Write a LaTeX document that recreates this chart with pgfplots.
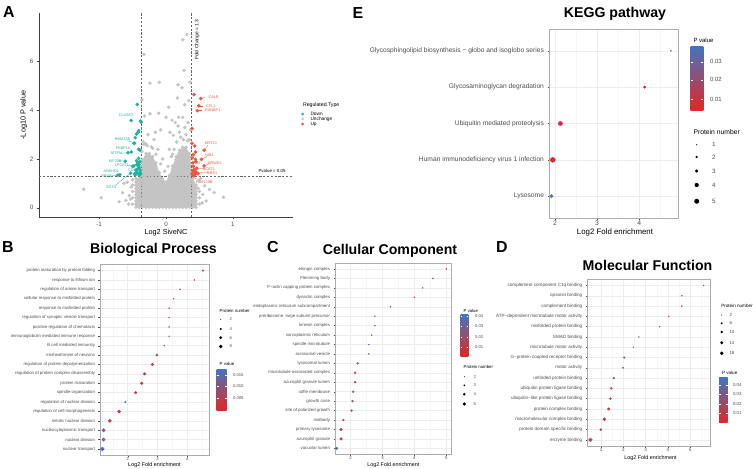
\documentclass[border=0pt]{standalone}
\usepackage{fontspec}
\setmainfont{Liberation Sans}
\usepackage{pgfplots}
\pgfplotsset{compat=1.18}
\newcommand\fs[1]{\fontsize{#1}{#1}\selectfont}
\definecolor{dn}{RGB}{32,178,160}
\definecolor{upc}{RGB}{238,86,58}
\definecolor{ns}{RGB}{196,196,196}
\definecolor{cR}{RGB}{228,38,36}
\definecolor{cM}{RGB}{165,80,125}
\definecolor{cB}{RGB}{64,118,192}
\definecolor{tk}{RGB}{77,77,77}
\pgfplotsset{
  colormap={rb}{rgb255=(228,38,36) rgb255=(165,80,125) rgb255=(64,118,192)},
  dot/.style={scale only axis, anchor=south west, colormap name=rb, clip=false,
    /pgf/number format/assume math mode=true,
    xmajorgrids, ymajorgrids, xminorgrids,
    major grid style={gray!14, line width=0.4bp},
    minor grid style={gray!6, line width=0.3bp},
    axis line style={gray!65, line width=0.5bp},
    tick style={tk, line width=0.35bp}, major tick length=1.5bp, minor tick length=0bp,
    tick align=outside, xtick pos=bottom, ytick pos=left,
    xticklabel style={inner sep=1bp},
    tick label style={text=tk}, ymin=0.4},
  bub/.style={scatter, only marks, mark=*, point meta=\thisrow{p},
    scatter/use mapped color={draw=mapped color, fill=mapped color},
    scatter/@pre marker code/.append style={/tikz/mark size=\rad, /tikz/line width=0.1bp}},
}
\begin{document}
\begin{tikzpicture}
\useasboundingbox (0bp,0bp) rectangle (753bp,-469bp);

% ---- A: volcano
\begin{axis}[scale only axis, anchor=south west, at={(39bp,-217bp)}, width=254bp, height=204bp,
  xmin=-1.9, xmax=1.9, ymin=-0.38, ymax=8, clip=false,
  axis x line*=bottom, axis y line*=left,
  axis line style={black!75, line width=0.5bp},
  xtick={-1,0,1}, ytick={0,2,4,6},
  tick align=outside, major tick length=2bp, tick style={black!75, line width=0.4bp},
  /pgf/number format/assume math mode=true,
  tick label style={font=\fs{6.3}, text=tk},
  xlabel={Log2 SiveNC}, ylabel={-Log10 P value},
  label style={font=\fs{7.3}},
  xlabel style={yshift=5bp}, ylabel style={yshift=-4bp}]
% dense core of the cloud
\addplot[fill=ns, draw=none] coordinates {
(-0.45,0.02)(-0.45,1.19)(-0.40,1.19)(-0.35,1.97)(-0.30,2.23)(-0.25,2.23)(-0.20,2.10)(-0.15,1.84)
(-0.10,1.45)(-0.05,1.19)(0.00,1.06)(0.05,1.32)(0.10,1.71)(0.15,2.10)(0.20,2.36)(0.25,2.49)
(0.30,2.49)(0.35,2.23)(0.40,1.19)(0.45,0.93)(0.45,0.02)} -- cycle;
\addplot[only marks, mark=*, mark size=1.55bp, ns, mark options={draw=none, fill=ns}] coordinates {
(-0.50,0.15)(-0.50,0.41)(-0.50,0.67)(-0.50,0.93)
(-0.45,0.02)(-0.45,0.15)(-0.45,0.28)(-0.45,0.41)(-0.45,0.54)(-0.45,0.67)(-0.45,0.80)(-0.45,0.93)(-0.45,1.06)(-0.45,1.19)
(-0.40,0.02)(-0.40,0.15)(-0.40,0.28)(-0.40,0.41)(-0.40,0.54)(-0.40,0.67)(-0.40,0.80)(-0.40,0.93)(-0.40,1.06)(-0.40,1.19)
(-0.35,0.02)(-0.35,0.15)(-0.35,0.28)(-0.35,0.41)(-0.35,0.54)(-0.35,0.67)(-0.35,0.80)(-0.35,0.93)(-0.35,1.06)(-0.35,1.19)(-0.35,1.32)(-0.35,1.45)(-0.35,1.58)(-0.35,1.71)(-0.35,1.84)(-0.35,1.97)
(-0.30,0.02)(-0.30,0.15)(-0.30,0.28)(-0.30,0.41)(-0.30,0.54)(-0.30,0.67)(-0.30,0.80)(-0.30,0.93)(-0.30,1.06)(-0.30,1.19)(-0.30,1.32)(-0.30,1.45)(-0.30,1.58)(-0.30,1.71)(-0.30,1.84)(-0.30,1.97)(-0.30,2.10)(-0.30,2.23)
(-0.25,0.02)(-0.25,0.15)(-0.25,0.28)(-0.25,0.41)(-0.25,0.54)(-0.25,0.67)(-0.25,0.80)(-0.25,0.93)(-0.25,1.06)(-0.25,1.19)(-0.25,1.32)(-0.25,1.45)(-0.25,1.58)(-0.25,1.71)(-0.25,1.84)(-0.25,1.97)(-0.25,2.10)(-0.25,2.23)
(-0.20,0.02)(-0.20,0.15)(-0.20,0.28)(-0.20,0.41)(-0.20,0.54)(-0.20,0.67)(-0.20,0.80)(-0.20,0.93)(-0.20,1.06)(-0.20,1.19)(-0.20,1.32)(-0.20,1.45)(-0.20,1.58)(-0.20,1.71)(-0.20,1.84)(-0.20,1.97)(-0.20,2.10)
(-0.15,0.02)(-0.15,0.15)(-0.15,0.28)(-0.15,0.41)(-0.15,0.54)(-0.15,0.67)(-0.15,0.80)(-0.15,0.93)(-0.15,1.06)(-0.15,1.19)(-0.15,1.32)(-0.15,1.45)(-0.15,1.58)(-0.15,1.71)(-0.15,1.84)
(-0.10,0.02)(-0.10,0.15)(-0.10,0.28)(-0.10,0.41)(-0.10,0.54)(-0.10,0.67)(-0.10,0.80)(-0.10,0.93)(-0.10,1.06)(-0.10,1.19)(-0.10,1.32)(-0.10,1.45)
(-0.05,0.02)(-0.05,0.15)(-0.05,0.28)(-0.05,0.41)(-0.05,0.54)(-0.05,0.67)(-0.05,0.80)(-0.05,0.93)(-0.05,1.06)(-0.05,1.19)
(0.00,0.02)(0.00,0.15)(0.00,0.28)(0.00,0.41)(0.00,0.54)(0.00,0.67)(0.00,0.80)(0.00,0.93)(0.00,1.06)
(0.05,0.02)(0.05,0.15)(0.05,0.28)(0.05,0.41)(0.05,0.54)(0.05,0.67)(0.05,0.80)(0.05,0.93)(0.05,1.06)(0.05,1.19)(0.05,1.32)
(0.10,0.02)(0.10,0.15)(0.10,0.28)(0.10,0.41)(0.10,0.54)(0.10,0.67)(0.10,0.80)(0.10,0.93)(0.10,1.06)(0.10,1.19)(0.10,1.32)(0.10,1.45)(0.10,1.58)(0.10,1.71)
(0.15,0.02)(0.15,0.15)(0.15,0.28)(0.15,0.41)(0.15,0.54)(0.15,0.67)(0.15,0.80)(0.15,0.93)(0.15,1.06)(0.15,1.19)(0.15,1.32)(0.15,1.45)(0.15,1.58)(0.15,1.71)(0.15,1.84)(0.15,1.97)(0.15,2.10)
(0.20,0.02)(0.20,0.15)(0.20,0.28)(0.20,0.41)(0.20,0.54)(0.20,0.67)(0.20,0.80)(0.20,0.93)(0.20,1.06)(0.20,1.19)(0.20,1.32)(0.20,1.45)(0.20,1.58)(0.20,1.71)(0.20,1.84)(0.20,1.97)(0.20,2.10)(0.20,2.23)(0.20,2.36)
(0.25,0.02)(0.25,0.15)(0.25,0.28)(0.25,0.41)(0.25,0.54)(0.25,0.67)(0.25,0.80)(0.25,0.93)(0.25,1.06)(0.25,1.19)(0.25,1.32)(0.25,1.45)(0.25,1.58)(0.25,1.71)(0.25,1.84)(0.25,1.97)(0.25,2.10)(0.25,2.23)(0.25,2.36)(0.25,2.49)
(0.30,0.02)(0.30,0.15)(0.30,0.28)(0.30,0.41)(0.30,0.54)(0.30,0.67)(0.30,0.80)(0.30,0.93)(0.30,1.06)(0.30,1.19)(0.30,1.32)(0.30,1.45)(0.30,1.58)(0.30,1.71)(0.30,1.84)(0.30,1.97)(0.30,2.10)(0.30,2.23)(0.30,2.36)(0.30,2.49)
(0.35,0.02)(0.35,0.15)(0.35,0.28)(0.35,0.41)(0.35,0.54)(0.35,0.67)(0.35,0.80)(0.35,0.93)(0.35,1.06)(0.35,1.19)(0.35,1.32)(0.35,1.45)(0.35,1.58)(0.35,1.71)(0.35,1.84)(0.35,1.97)(0.35,2.10)(0.35,2.23)
(0.40,0.02)(0.40,0.15)(0.40,0.28)(0.40,0.41)(0.40,0.54)(0.40,0.67)(0.40,0.80)(0.40,0.93)(0.40,1.06)(0.40,1.19)
(0.45,0.02)(0.45,0.15)(0.45,0.28)(0.45,0.41)(0.45,0.54)(0.45,0.67)(0.45,0.80)(0.45,0.93)
(0.50,0.15)(0.50,0.41)(0.50,0.67)
(0.31,7.12)(0.25,6.90)(-0.33,6.30)(0.27,5.64)(-0.24,5.12)(0.18,5.05)(0.24,4.93)(0.36,5.16)(-0.10,5.15)
(0.17,4.51)(0.34,4.40)(0.28,4.23)(-0.36,4.43)(-0.24,3.86)(-0.11,3.88)(-0.32,3.77)(0.19,3.72)(0.25,3.71)
(0.00,3.72)(0.04,4.13)(0.18,3.36)(0.11,2.98)(0.06,3.10)(-0.28,2.55)(-0.33,2.60)(-0.36,2.30)(-0.30,2.62)
(-0.22,2.50)(-0.15,2.20)(-0.08,1.80)(-0.02,1.50)(0.03,1.70)(0.08,2.10)(0.12,2.40)(0.16,2.70)(0.22,2.90)
(0.30,3.00)(0.35,2.80)(0.28,3.30)(0.20,3.10)(0.14,3.50)(-0.18,2.80)(-0.27,3.00)(-0.34,2.70)(-0.12,2.40)
(-0.05,2.00)(0.05,2.40)(0.33,3.50)(0.37,3.20)(0.32,2.75)(0.26,2.80)(0.10,2.20)(-0.20,2.45)(-0.08,3.20)
(0.09,3.60)(-0.16,3.10)
(-1.23,0.76)(-0.97,0.41)(-0.63,1.00)(-0.55,0.50)(-0.60,0.30)(-0.52,0.85)(-0.56,0.15)(-0.65,0.62)(-0.50,1.15)
(-0.58,1.05)(-0.70,0.25)(-0.53,0.35)(0.86,0.43)(0.72,0.62)(0.55,0.55)(0.58,0.90)(0.60,0.28)(0.50,1.10)
(0.54,0.20)(0.65,0.75)(0.48,0.80)(0.52,1.20)
};
\addplot[only marks, mark=*, mark size=1.6bp, dn, mark options={draw=none, fill=dn}] coordinates {
(-0.43,4.24)(-0.52,3.58)(-0.38,3.57)(-0.37,3.51)(-0.42,3.10)(-0.44,3.03)(-0.41,3.17)(-0.46,2.88)
(-0.47,2.65)(-0.48,2.65)(-0.39,2.37)(-0.41,2.40)(-0.52,2.29)(-0.57,2.26)(-0.61,1.91)(-0.41,2.03)
(-0.44,1.93)(-0.48,1.72)(-0.44,1.77)(-0.42,1.85)(-0.40,1.78)(-0.40,1.64)(-0.43,1.58)(-0.45,1.55)
(-0.39,1.55)(-0.39,1.45)(-0.42,1.42)(-0.44,1.46)(-0.69,1.36)(-0.72,1.34)(-0.53,1.42)(-0.47,1.39)
(-0.38,1.39)(-0.40,1.33)(-0.50,1.70)(-0.46,1.35)(-0.41,1.70)(-0.39,1.90)
};
\addplot[only marks, mark=*, mark size=1.6bp, upc, mark options={draw=none, fill=upc}] coordinates {
(0.42,4.65)(0.52,4.49)(0.49,4.19)(0.47,3.99)(0.39,3.25)(0.39,2.65)(0.57,2.37)(0.43,2.54)
(0.44,2.29)(0.41,2.18)(0.53,1.99)(0.44,1.99)(0.45,1.89)(0.40,1.85)(0.57,1.72)(0.41,1.70)
(0.46,1.62)(0.42,1.57)(0.40,1.52)(0.43,1.49)(0.41,1.44)(0.39,1.39)(0.44,1.39)(0.40,1.35)
(0.42,1.32)(0.45,1.47)(0.48,1.40)(0.39,2.05)
};
\addplot[dash pattern=on 2.2bp off 1.6bp, black!60, line width=0.4bp] coordinates {(-0.378,-0.38) (-0.378,8)};
\addplot[dash pattern=on 2.2bp off 1.6bp, black!60, line width=0.4bp] coordinates {(0.378,-0.38) (0.378,8)};
\addplot[dash pattern=on 2.2bp off 1.6bp, black!60, line width=0.4bp] coordinates {(-1.9,1.301) (1.9,1.301)};
\node[rotate=90, font=\fs{4.85}] at (axis cs:0.467,6.9) {Fold Change = 1.3};
\node[anchor=east, font=\fs{4.4}] at (axis cs:1.84,1.5) {Pvalue = 0.05};
% gene labels
\begin{scope}[dn, line width=0.3bp, font=\fs{3.8}]
\node at (axis cs:-0.597,3.79) {CLASP2};
\node at (axis cs:-0.65,2.81) {RBM12B};
\draw (axis cs:-0.58,2.76) -- (axis cs:-0.47,2.66);
\node at (axis cs:-0.64,2.43) {FKBP1A};
\node at (axis cs:-0.74,2.24) {MTPN};
\draw (axis cs:-0.685,2.24) -- (axis cs:-0.57,2.26);
\node at (axis cs:-0.76,1.93) {KIF20B};
\draw (axis cs:-0.695,1.93) -- (axis cs:-0.61,1.91);
\node at (axis cs:-0.66,1.74) {LPCAT1};
\draw (axis cs:-0.585,1.74) -- (axis cs:-0.48,1.72);
\node at (axis cs:-0.51,1.53) {CD9};
\node at (axis cs:-0.82,1.51) {ANKHD1};
\node at (axis cs:-0.89,1.30) {RBM4};
\draw (axis cs:-0.835,1.30) -- (axis cs:-0.72,1.34);
\node at (axis cs:-0.82,0.84) {SGTA};
\draw (axis cs:-0.76,0.92) -- (axis cs:-0.53,1.42);
\end{scope}
\begin{scope}[upc, line width=0.3bp, font=\fs{3.8}]
\node[anchor=west] at (axis cs:0.585,4.53) {CALR};
\draw (axis cs:0.585,4.53) -- (axis cs:0.52,4.49);
\node[anchor=west] at (axis cs:0.55,4.19) {CFL1};
\draw (axis cs:0.55,4.19) -- (axis cs:0.49,4.19);
\node[anchor=west] at (axis cs:0.535,3.99) {RANBP1};
\draw (axis cs:0.535,3.99) -- (axis cs:0.47,3.99);
\node at (axis cs:0.67,2.65) {KRT13};
\draw (axis cs:0.63,2.57) -- (axis cs:0.57,2.37);
\node at (axis cs:0.65,2.17) {NIB1};
\draw (axis cs:0.61,2.10) -- (axis cs:0.53,1.99);
\node at (axis cs:0.73,1.85) {GRWD1};
\draw (axis cs:0.66,1.82) -- (axis cs:0.57,1.72);
\node at (axis cs:0.45,1.83) {VTN};
\node at (axis cs:0.64,1.59) {ACAT2};
\draw (axis cs:0.585,1.60) -- (axis cs:0.46,1.62);
\node at (axis cs:0.69,1.42) {RRS1};
\draw (axis cs:0.64,1.43) -- (axis cs:0.45,1.47);
\node at (axis cs:0.57,1.05) {FAM129B};
\draw (axis cs:0.52,1.12) -- (axis cs:0.41,1.24);
\end{scope}
\end{axis}

% ---- E: KEGG
\begin{axis}[dot, at={(549bp,-218bp)}, width=129bp, height=189bp,
  xmin=1.86, xmax=4.92, ymax=5.6, xtick={2,3,4}, minor xtick={2.5,3.5,4.5},
  ytick={1,...,5},
  yticklabels={Lysosome, Human immunodeficiency virus 1 infection, Ubiquitin mediated proteolysis, Glycosaminoglycan degradation, Glycosphingolipid biosynthesis − globo and isoglobo series},
  yticklabel style={font=\fs{6.7}}, xticklabel style={font=\fs{6.8}},
  point meta min=0.0041, point meta max=0.0384]
\addplot[bub, visualization depends on={0.6+(sqrt(\thisrow{n})-1)*1.537 \as \rad}] table {
x y p n
4.75 5 0.037 1
4.13 4 0.004 2
2.13 3 0.007 4
1.95 2 0.005 5
1.92 1 0.036 3
};
\end{axis}

% ---- B: Biological Process
\begin{axis}[dot, at={(100bp,-455bp)}, width=109bp, height=191bp,
  xmin=1.07, xmax=4.73, ymin=0.36, ymax=20.7, xtick={2,3,4}, minor xtick={1.5,2.5,3.5,4.5},
  ytick={1,...,20},
  yticklabels={nuclear transport, nuclear division, nucleocytoplasmic transport, mitotic nuclear division, regulation of cell morphogenesis, regulation of nuclear division, spindle organization, protein maturation, regulation of protein complex disassembly, regulation of protein depolymerization, ensheathment of neurons, B cell mediated immunity, immunoglobulin mediated immune response, positive regulation of chemotaxis, regulation of synaptic vesicle transport, response to misfolded protein, cellular response to misfolded protein, regulation of amine transport, response to lithium ion, protein maturation by protein folding},
  yticklabel style={font=\fs{4.3}}, xticklabel style={font=\fs{4.3}},
  point meta min=0, point meta max=0.0178]
\addplot[bub, visualization depends on={0.5+(sqrt(\thisrow{n})-1.414)*0.99 \as \rad}] table {
x y p n
4.53 20 0.001 3
4.24 19 0.002 2
3.76 18 0.004 2
3.54 17 0.005 2
3.39 16 0.008 2
3.39 15 0.009 2
3.39 14 0.009 2
3.39 13 0.010 2
3.23 12 0.017 2
2.98 11 0.002 4
2.83 10 0.002 5
2.57 9 0.003 5
2.47 8 0.003 5
2.27 7 0.002 5
1.92 6 0.017 3
1.71 5 0.002 6
1.40 4 0.006 7
1.19 3 0.012 7
1.19 2 0.012 7
1.15 1 0.016 8
};
\end{axis}

% ---- C: Cellular Component
\begin{axis}[dot, at={(335bp,-454bp)}, width=116.7bp, height=190.7bp,
  xmin=1.51, xmax=5.17, ymax=20.6, xtick={2,3,4,5}, minor xtick={2.5,3.5,4.5},
  ytick={1,...,20},
  yticklabels={vacuolar lumen, azurophil granule, primary lysosome, midbody, site of polarized growth, growth cone, ruffle membrane, azurophil granule lumen, microtubule associated complex, lysosomal lumen, acrosomal vesicle, spindle microtubule, sarcoplasmic reticulum, kinesin complex, {preribosome, large subunit precursor}, endoplasmic reticulum subcompartment, dynactin complex, F−actin capping protein complex, Flemming body, elongin complex},
  yticklabel style={font=\fs{4.35}}, xticklabel style={font=\fs{4.3}},
  point meta min=0.001, point meta max=0.0417]
\addplot[bub, visualization depends on={0.5+(sqrt(\thisrow{n})-1.414)*1.46 \as \rad}] table {
x y p n
5.00 20 0.005 2
4.58 19 0.010 2
4.26 18 0.010 2
4.00 17 0.004 2
3.25 16 0.012 2
2.76 15 0.036 2
2.76 14 0.030 2
2.66 13 0.033 2
2.57 12 0.040 2
2.57 11 0.040 2
2.22 10 0.020 3
2.14 9 0.012 3
2.14 8 0.012 3
2.08 7 0.025 3
2.06 6 0.013 3
2.03 5 0.010 3
1.77 4 0.020 3
1.70 3 0.009 4
1.70 2 0.009 4
1.56 1 0.040 4
};
\end{axis}

% ---- D: Molecular Function
\begin{axis}[dot, at={(587.3bp,-446bp)}, width=123.4bp, height=166.7bp,
  xmin=0.38, xmax=5.93, ymax=16.6, xtick={1,2,3,4,5}, minor xtick={1.5,2.5,3.5,4.5,5.5},
  ytick={1,...,16},
  yticklabels={enzyme binding, protein domain specific binding, macromolecular complex binding, protein complex binding, ubiquitin−like protein ligase binding, ubiquitin protein ligase binding, unfolded protein binding, motor activity, G−protein coupled receptor binding, microtubule motor activity, SMAD binding, misfolded protein binding, ATP−dependent microtubule motor activity, complement binding, opsonin binding, complement component C1q binding},
  yticklabel style={font=\fs{4.6}}, xticklabel style={font=\fs{4.6}},
  point meta min=0, point meta max=0.048]
\addplot[bub, visualization depends on={0.5+(sqrt(\thisrow{n})-1.414)*0.495 \as \rad}] table {
x y p n
5.61 16 0.010 2
4.63 15 0.008 2
4.63 14 0.012 2
4.04 13 0.012 2
3.63 12 0.004 2
2.70 11 0.035 2
2.45 10 0.045 2
2.04 9 0.020 4
1.99 8 0.030 3
1.57 7 0.030 5
1.46 6 0.012 6
1.42 5 0.015 6
1.34 4 0.008 9
1.15 3 0.004 12
0.99 2 0.025 7
0.52 1 0.020 18
};
\end{axis}

% ---- titles, labels, legends
\begin{scope}[x=1bp, y=-1bp]
\node[font=\bfseries\fs{16}] at (9,12.5) {A};
\node[font=\bfseries\fs{16}] at (358,13) {E};
\node[font=\bfseries\fs{16}] at (8,246.7) {B};
\node[font=\bfseries\fs{16}] at (273,246.7) {C};
\node[font=\bfseries\fs{16}] at (502,247) {D};
\node[font=\bfseries\fs{14.2}] at (615,13.5) {KEGG pathway};
\node[font=\bfseries\fs{14.2}] at (153.5,249.5) {Biological Process};
\node[font=\bfseries\fs{14.2}] at (390,250.5) {Cellular Component};
\node[font=\bfseries\fs{14.2}] at (647.5,265.5) {Molecular Function};
\node[font=\fs{7.9}] at (615,232.5) {Log2 Fold enrichment};
\node[font=\fs{5.45}] at (154.5,464.8) {Log2 Fold enrichment};
\node[font=\fs{5.4}] at (393.3,464.8) {Log2 Fold enrichment};
\node[font=\fs{5.4}] at (650.5,458.2) {Log2 Fold enrichment};
% A legend
\node[anchor=west, font=\fs{5.2}] at (299.5,105.3) {Regulated.Type};
\fill[dn] (302.7,114) circle (1.5);
\fill[ns] (302.7,119) circle (1.5);
\fill[upc] (302.7,124) circle (1.5);
\node[anchor=west, font=\fs{4.8}] at (307,114) {Down};
\node[anchor=west, font=\fs{4.8}] at (307,119) {Unchange};
\node[anchor=west, font=\fs{4.8}] at (307,124) {Up};
% E legends
\node[anchor=west, font=\fs{6}] at (690,40) {P value};
\shade[top color=cB, middle color=cM, bottom color=cR] (690.7,46) rectangle (703.3,110);
\foreach \yy/\tt in {61.7/0.03, 79.7/0.02, 99/0.01} {
  \draw[white, line width=0.4] (690.7,\yy) -- (693.2,\yy) (700.8,\yy) -- (703.3,\yy);
  \node[anchor=west, font=\fs{6}, text=tk] at (706.5,\yy) {\tt};}
\node[anchor=west, font=\fs{6.8}] at (690,131.7) {Protein number};
\foreach \yy/\rr/\tt in {144.7/0.6/1, 157/1.24/2, 171/1.73/3, 185/2.14/4, 201.3/2.5/5} {
  \fill (696.7,\yy) circle (\rr);
  \node[anchor=west, font=\fs{6.3}, text=tk] at (708.5,\yy) {\tt};}
% B legends
\node[anchor=west, font=\fs{4.4}] at (216.2,310.7) {Protein number};
\foreach \yy/\rr/\tt in {319.3/0.5/2, 329/1.08/4, 337.7/1.52/6, 346.5/1.9/8} {
  \fill (220.7,\yy) circle (\rr);
  \node[anchor=west, font=\fs{4.2}, text=tk] at (226,\yy) {\tt};}
\node[anchor=west, font=\fs{4.4}] at (216.2,364.3) {P value};
\shade[top color=cB, middle color=cM, bottom color=cR] (216.7,369) rectangle (226.7,410);
\foreach \yy/\tt in {375.3/0.015, 386.5/0.010, 397.7/0.005} {
  \draw[white, line width=0.3] (216.7,\yy) -- (218.7,\yy) (224.7,\yy) -- (226.7,\yy);
  \node[anchor=west, font=\fs{4.2}, text=tk] at (229.5,\yy) {\tt};}
% C legends
\node[anchor=west, font=\fs{4.3}] at (460.2,310.7) {P value};
\shade[top color=cB, middle color=cM, bottom color=cR] (460.7,314.3) rectangle (468.3,356);
\foreach \yy/\tt in {316/0.04, 325.7/0.03, 336.7/0.02, 346.7/0.01} {
  \draw[white, line width=0.3] (460.7,\yy) -- (462.4,\yy) (466.6,\yy) -- (468.3,\yy);
  \node[anchor=west, font=\fs{4.2}, text=tk] at (471.5,\yy) {\tt};}
\node[anchor=west, font=\fs{4.3}] at (460.2,367.3) {Protein number};
\foreach \yy/\rr/\tt in {376.7/0.5/2, 385.3/0.96/3, 394.3/1.36/4, 404/1.7/5} {
  \fill (464.3,\yy) circle (\rr);
  \node[anchor=west, font=\fs{4.2}, text=tk] at (470,\yy) {\tt};}
% D legends
\node[anchor=west, font=\fs{4.6}] at (717.8,306) {Protein number};
\foreach \yy/\rr/\tt in {315/0.5/2, 323.3/1.01/6, 332/1.37/10, 342.7/1.65/14, 353.3/1.9/18} {
  \fill (721.7,\yy) circle (\rr);
  \node[anchor=west, font=\fs{4.4}, text=tk] at (726,\yy) {\tt};}
\node[anchor=west, font=\fs{4.6}] at (718.5,372.7) {P value};
\shade[top color=cB, middle color=cM, bottom color=cR] (719,377.7) rectangle (727.7,422.7);
\foreach \yy/\tt in {385/0.04, 394.3/0.03, 403.7/0.02, 412.7/0.01} {
  \draw[white, line width=0.3] (719,\yy) -- (721,\yy) (725.7,\yy) -- (727.7,\yy);
  \node[anchor=west, font=\fs{4.4}, text=tk] at (729.5,\yy) {\tt};}
\end{scope}
\end{tikzpicture}
\end{document}
